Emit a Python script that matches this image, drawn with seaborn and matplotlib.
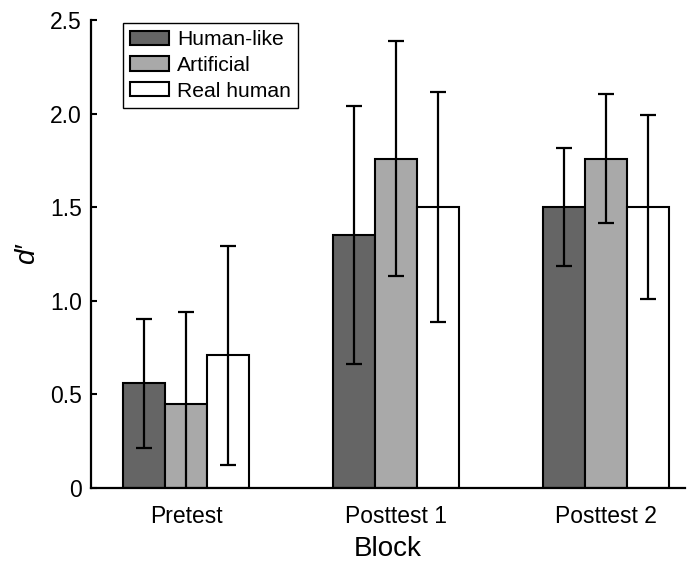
import numpy as np
import pandas as pd
import matplotlib
matplotlib.use("Agg")
import matplotlib.pyplot as plt
import seaborn as sns

blocks = ["Pretest", "Posttest 1", "Posttest 2"]
conditions = ["Human-like", "Artificial", "Real human"]
human_like = [0.56, 1.35, 1.50]
artificial = [0.45, 1.76, 1.76]
real_human = [0.71, 1.50, 1.50]
human_like_err = [0.345, 0.69, 0.315]
artificial_err = [0.49, 0.63, 0.345]
real_human_err = [0.585, 0.615, 0.49]
yticks = [0, 0.5, 1.0, 1.5, 2.0, 2.5]
ytick_labels = ["0", "0.5", "1.0", "1.5", "2.0", "2.5"]

sns.set_style("white")
plt.rcParams["font.family"] = ["Liberation Sans", "DejaVu Sans"]
plt.rcParams["text.color"] = "black"
plt.rcParams["axes.labelcolor"] = "black"
plt.rcParams["xtick.color"] = "black"
plt.rcParams["ytick.color"] = "black"

rows = []
for cond, vals, errs in zip(conditions, [human_like, artificial, real_human],
                            [human_like_err, artificial_err, real_human_err]):
    for b, v, e in zip(blocks, vals, errs):
        rows.append({"Block": b, "Condition": cond, "d": v, "err": e})
df = pd.DataFrame(rows)

palette = {"Human-like": "#656565", "Artificial": "#a9a9a9", "Real human": "#ffffff"}

fig = plt.figure(figsize=(6.89, 5.63), dpi=100)
ax = fig.add_axes([0.132, 0.1332, 0.862, 0.8313])

sns.barplot(data=df, x="Block", y="d", hue="Condition", order=blocks,
            hue_order=conditions, palette=palette, width=0.6, errorbar=None,
            edgecolor="black", linewidth=1.5, saturation=1, ax=ax)

# error bars from bar patches
for cont, cond in zip(ax.containers, conditions):
    sub = df[df["Condition"] == cond].set_index("Block").loc[blocks]
    xs = [p.get_x() + p.get_width() / 2 for p in cont.patches]
    ys = [p.get_height() for p in cont.patches]
    ax.errorbar(xs, ys, yerr=sub["err"].values, fmt="none", ecolor="black",
                elinewidth=1.6, capsize=5.6, capthick=1.6, zorder=5)

ax.set_xlim(-0.455, 2.376)
ax.set_ylim(0, 2.5)
ax.set_yticks(yticks)
ax.set_yticklabels(ytick_labels)
ax.tick_params(axis="y", direction="in", length=4, width=1.5, pad=6.5,
               labelsize=16.5, left=True)
ax.tick_params(axis="x", length=0, pad=12, labelsize=16.5)

sns.despine(ax=ax)
for s in ["left", "bottom"]:
    ax.spines[s].set_linewidth(1.6)
    ax.spines[s].set_color("black")

ax.set_xlabel("Block", fontsize=20, labelpad=6)
ax.set_ylabel("d\u2032", fontsize=20, style="italic", labelpad=7)

leg = ax.legend(loc="upper left", bbox_to_anchor=(0.054, 0.994), fontsize=15.2,
                frameon=True, fancybox=False, edgecolor="black",
                handlelength=1.85, handleheight=0.65, labelspacing=0.32,
                borderpad=0.35, handletextpad=0.35, borderaxespad=0)
leg.get_frame().set_linewidth(1.0)
leg.get_frame().set_alpha(1)

fig.savefig("out.png", dpi=100)
